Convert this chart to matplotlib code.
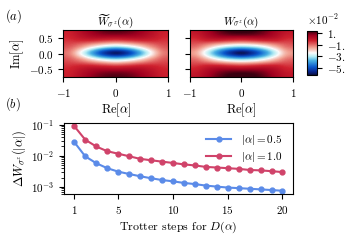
"""Wigner-function maps (a) and Trotter error vs steps (b)."""

import matplotlib

matplotlib.use("Agg")
import matplotlib.pyplot as plt
import numpy as np
from matplotlib.colors import LinearSegmentedColormap, Normalize

plt.rcParams["font.family"] = "serif"
plt.rcParams["font.serif"] = ["cmr10", "DejaVu Serif"]
plt.rcParams["mathtext.fontset"] = "cm"
plt.rcParams["axes.formatter.use_mathtext"] = True
plt.rcParams["font.size"] = 8
plt.rcParams["axes.unicode_minus"] = True

# grid points of the maps (Re, Im) and values, units 1e-2
re_pts = [-1.0, -0.75, -0.5, -0.25, 0.0, 0.25, 0.5, 0.75, 1.0]
im_pts = [0.75, 0.5, 0.25, 0.0, -0.25, -0.5, -0.75]
w_approx = [
    [-0.2, 0.2, 0.6, 0.9, 1.0, 0.9, 0.6, 0.2, -0.2],
    [-0.4, -0.2, -0.1, -0.2, -0.3, -0.2, -0.1, -0.2, -0.4],
    [-0.8, -1.3, -2.0, -2.6, -2.9, -2.6, -2.0, -1.3, -0.8],
    [-1.2, -2.4, -3.9, -5.3, -5.9, -5.3, -3.9, -2.4, -1.2],
    [-0.8, -1.3, -2.0, -2.6, -2.9, -2.6, -2.0, -1.3, -0.8],
    [-0.4, -0.2, -0.1, -0.2, -0.3, -0.2, -0.1, -0.2, -0.4],
    [-0.2, 0.2, 0.6, 0.9, 1.0, 0.9, 0.6, 0.2, -0.2],
]
w_exact = [
    [0.0, 0.4, 0.9, 1.25, 1.35, 1.25, 0.9, 0.4, 0.0],
    [-0.4, -0.1, 0.0, -0.1, -0.2, -0.1, 0.0, -0.1, -0.4],
    [-1.0, -1.6, -2.3, -2.8, -3.0, -2.8, -2.3, -1.6, -1.0],
    [-1.6, -2.8, -4.2, -5.4, -6.0, -5.4, -4.2, -2.8, -1.6],
    [-1.0, -1.6, -2.3, -2.8, -3.0, -2.8, -2.3, -1.6, -1.0],
    [-0.4, -0.1, 0.0, -0.1, -0.2, -0.1, 0.0, -0.1, -0.4],
    [0.0, 0.4, 0.9, 1.25, 1.35, 1.25, 0.9, 0.4, 0.0],
]
cbar_ticks = [1, -1, -3, -5]

# panel (b)
steps = list(range(1, 21))
err_05 = [0.0276, 0.0096, 0.0058, 0.0040, 0.0031, 0.0026, 0.0022, 0.0019,
          0.00166, 0.00151, 0.00134, 0.00123, 0.0011, 0.00102, 0.00095,
          0.00091, 0.00087, 0.00083, 0.00079, 0.00075]
err_10 = [0.090, 0.033, 0.020, 0.0141, 0.0117, 0.0097, 0.0080, 0.0072,
          0.0065, 0.0059, 0.0053, 0.0049, 0.0044, 0.0042, 0.0040, 0.0038,
          0.0035, 0.0034, 0.0032, 0.0030]

cmap = LinearSegmentedColormap.from_list(
    "balance_like",
    [
        (0.0, "#0a0f40"),
        (0.07, "#08248a"),
        (0.18, "#0a58cc"),
        (0.32, "#46aee2"),
        (0.42, "#b4ecf4"),
        (0.5, "#fbfbfb"),
        (0.62, "#f2a394"),
        (0.78, "#d0222f"),
        (0.9, "#a00020"),
        (1.0, "#3a0010"),
    ],
)
norm = Normalize(vmin=-6.2e-2, vmax=1.35e-2)

fig = plt.figure(figsize=(3.55, 2.44), dpi=100)
ax_l = fig.add_axes([0.178, 0.684, 0.296, 0.193])
ax_r = fig.add_axes([0.535, 0.684, 0.290, 0.193])
cax = fig.add_axes([0.865, 0.693, 0.028, 0.180])
ax_b = fig.add_axes([0.180, 0.205, 0.645, 0.291])

ext = [re_pts[0], re_pts[-1], im_pts[-1], im_pts[0]]
for ax, grid, title in [
    (ax_l, w_approx, r"$\widetilde{W}_{\sigma^z}(\alpha)$"),
    (ax_r, w_exact, r"$W_{\sigma^z}(\alpha)$"),
]:
    im = ax.imshow(np.array(grid) * 1e-2, cmap=cmap, norm=norm, extent=ext,
                   aspect="auto", interpolation="catrom",
                   interpolation_stage="data")
    ax.set_xlim(-1, 1)
    ax.set_ylim(-0.75, 0.75)
    ax.set_xticks([-1, 0, 1])
    ax.set_yticks([-0.5, 0.0, 0.5])
    ax.set_title(title, fontsize=8, pad=4)
    ax.set_xlabel(r"$\mathrm{Re}[\alpha]$", fontsize=9, labelpad=2)
ax_l.set_ylabel(r"$\mathrm{Im}[\alpha]$", fontsize=9, labelpad=2)
ax_r.set_yticklabels([])

cb = fig.colorbar(im, cax=cax)
cb.set_ticks([t * 1e-2 for t in cbar_ticks])
cb.set_ticklabels([rf"${t}.$" if t > 0 else rf"$-{abs(t)}.$" for t in cbar_ticks])
cb.outline.set_linewidth(0.8)
cax.text(0.0, 1.08, r"$\times10^{-2}$", transform=cax.transAxes,
         ha="left", va="bottom", fontsize=8)

ax_b.plot(steps, err_05, "-o", color="#5b8be8", lw=1.5, ms=3.5,
          label=r"$|\alpha| = 0.5$")
ax_b.plot(steps, err_10, "-o", color="#d0436a", lw=1.5, ms=3.5,
          label=r"$|\alpha| = 1.0$")
ax_b.set_yscale("log")
ax_b.set_xticks([1, 5, 10, 15, 20])
ax_b.set_xlabel(r"Trotter steps for $D(\alpha)$", fontsize=8.6, labelpad=3)
ax_b.set_ylabel(r"$\Delta W_{\sigma^z}(|\alpha|)$", fontsize=9, labelpad=2)
ax_b.legend(loc="upper right", frameon=False, fontsize=8, labelspacing=0.25,
            handlelength=2.3, handletextpad=0.9)

fig.text(0.015, 0.92, r"$(a)$", fontsize=9)
fig.text(0.015, 0.56, r"$(b)$", fontsize=9)

fig.savefig("out.png", dpi=100)
